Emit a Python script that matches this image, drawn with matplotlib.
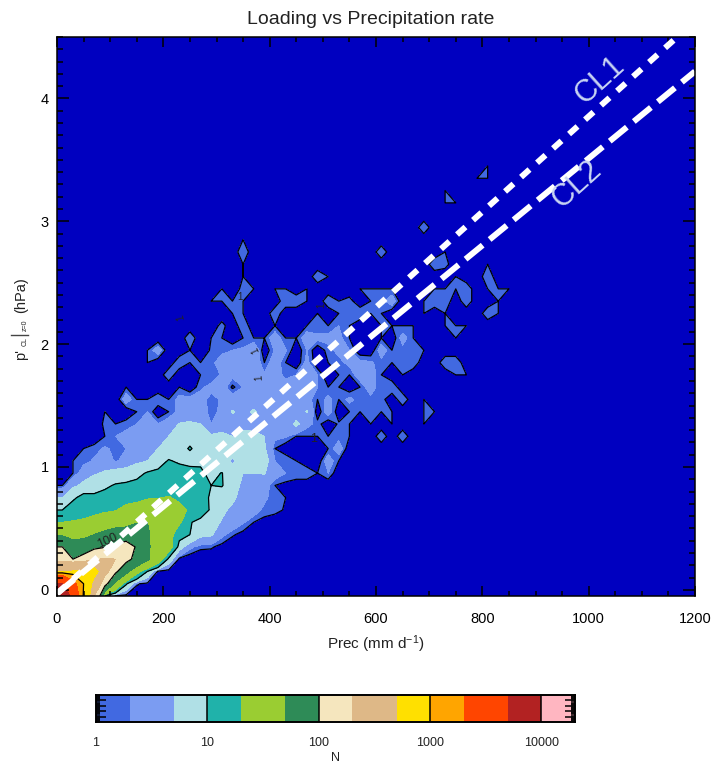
import numpy as np
import matplotlib; matplotlib.use("Agg"); import matplotlib.pyplot as plt
from matplotlib.lines import Line2D

plt.rcParams['font.family'] = ['Liberation Sans', 'DejaVu Sans']
plt.rcParams['mathtext.fontset'] = 'custom'
plt.rcParams['mathtext.rm'] = 'Liberation Sans'
plt.rcParams['mathtext.it'] = 'Liberation Sans'

levels = [1, 2, 5, 10, 20, 50, 100, 200, 500, 1000, 2000, 5000, 10000, 20000]
colors = ["#4169E1", "#7B9CF2", "#B0E0E6", "#20B2AA", "#9ACD32", "#2E8B57", "#F5E6BE",
          "#DEB887", "#FFE000", "#FFA500", "#FF4500", "#B22222", "#FFB6C1"]
line_levels = [1, 10, 100, 1000, 10000]
cbar_ticks = [1, 10, 100, 1000, 10000]

# bin centres, Prec every 20 mm/d, loading every 0.1 hPa
prec = [10 + 20 * k for k in range(-1, 44)]
load = [-0.05 + 0.1 * j for j in range(37)]

# counts per bin, one row per load value, trailing zeros dropped
counts = [
    [9000, 3500, 900, 200, 10, 0.5],
    [5000, 2500, 1000, 350, 120, 40, 11, 1.2, 0.5],
    [450, 520, 550, 650, 250, 110, 60, 25, 10, 0.5],
    [150, 100, 120, 190, 210, 200, 115, 85, 55, 30, 8, 0.5],
    [100, 70, 70, 80, 95, 110, 125, 95, 55, 35, 28, 7, 2.5, 1.3, 1.2, 0.5],
    [45, 35, 40, 50, 60, 70, 70, 75, 55, 33, 25, 13, 10, 6, 5.5, 2.5, 1.2, 0.5],
    [20, 21, 22, 24, 28, 33, 38, 48, 50, 35, 33, 22, 10.5, 8, 6, 4.8, 3.5, 2.2, 1, 0.6],
    [10, 13, 15, 17, 18, 19, 25, 28, 36, 42, 45, 25, 18, 14, 9, 5.5, 4.5, 3, 3, 1.5, 1.5, 0.8],
    [5, 9, 12, 11, 12, 13, 14, 15, 18, 19, 21, 17, 15, 13, 9, 6, 5.5, 4, 3, 2.5, 1, 1],
    [1, 4, 6, 8, 9, 10.5, 11, 11.5, 12.5, 12, 14, 16, 14, 12, 10, 10.5, 6, 4.5, 4.3, 3, 1, 0.6],
    [0, 1, 3, 4.5, 5.5, 6.5, 7, 8.5, 10.5, 11.5, 12, 13, 13, 11, 8.5, 10.2, 7, 5, 5, 5.2, 3, 2, 2, 2, 1, 2],
    [0, 1, 1.5, 2.2, 3, 1.8, 2.5, 4, 5, 7, 10.5, 9, 7.5, 9, 8, 6, 4.5, 6, 8, 7, 2, 2, 1, 0, 0, 3, 1],
    [0, 0, 1, 1.5, 2.2, 1.7, 2, 3, 4, 5, 6, 8, 10.5, 8, 7, 7, 7, 7, 6, 5.5, 1, 0, 0, 0, 0, 1, 3],
    [0, 0, 0, 0, 1, 2, 2.5, 2.5, 2.8, 4, 5, 7, 8, 6.5, 5.5, 6, 5, 6, 6, 5, 2.5, 2.2, 1, 1, 1, 1, 1.5, 1, 0, 0, 2, 0, 2],
    [0, 0, 0, 0, 1.3, 1, 1.5, 2, 2.2, 2, 3, 5.2, 5.5, 5, 2, 3, 3.5, 4, 3.5, 4, 3, 2.5, 6, 2.5, 1.5, 0, 1.2, 1, 0, 1, 0, 1, 0, 0, 1],
    [0, 0, 0, 0, 1, 0, 0, 1, 2, 0, 1, 2.5, 3, 2.5, 1.7, 2.2, 5.3, 4, 5.5, 3.5, 3, 2.5, 2.5, 5.3, 0, 3, 0, 1, 1, 1.5, 1, 1, 0, 0, 1, 1],
    [0, 0, 0, 0, 0, 0, 3, 1, 1, 2, 1, 2.5, 2.5, 2.7, 1.5, 2.2, 3, 3, 2.8, 2.5, 4, 3, 2.2, 2.8, 1, 2.5, 1, 2.5, 1.3, 1.5, 1.5, 0, 2, 0, 1],
    [0, 0, 0, 0, 0, 0, 1, 0, 0, 0, 0, 1, 0, 1.7, 2.5, 3, 0.7, 2, 2, 2.2, 3, 3, 2.6, 2.5, 2, 1, 1, 0, 1, 3, 1, 2],
    [0, 0, 0, 0, 0, 0, 0, 0, 0, 0, 2, 0, 0, 1, 1, 2.2, 2.5, 3, 3, 2.2, 3, 1.5, 2, 2.2, 2, 0, 1, 1, 3, 3, 1, 0, 1, 0, 0, 0, 0, 1, 1],
    [0, 0, 0, 0, 0, 0, 0, 0, 1, 0, 0, 2, 1, 1, 1.5, 3, 3, 2.2, 3.5, 1, 3, 1, 0, 2.5, 0, 1, 1.5, 2.5, 2.5, 2.2, 1.5, 1, 2, 2, 0, 0, 2, 2],
    [0, 0, 0, 0, 0, 0, 0, 0, 1, 3, 0, 0, 1, 0, 1.2, 1.5, 2, 2.3, 4, 0, 2.2, 2.2, 0, 2, 0, 1.5, 2.5, 2, 0, 0, 3, 1, 1.5, 1.5, 1],
    [0, 0, 0, 0, 0, 0, 0, 0, 0, 0, 0, 0, 2, 0, 1, 1, 0, 1, 1, 1, 3, 1, 1, 3, 2.5, 2.5, 2.5, 1, 0, 0, 1, 0, 2.7, 1, 0, 0, 0, 1],
    [0, 0, 0, 0, 0, 0, 0, 0, 0, 0, 0, 0, 0, 0, 0, 1.5, 0, 2, 0, 0, 1, 0, 0, 1, 1, 1, 2, 1, 0, 0, 1, 1, 1, 1, 0, 0, 1, 1, 1],
    [0, 0, 0, 0, 0, 0, 0, 0, 0, 0, 0, 0, 0, 0, 0, 0, 1, 1, 0, 0, 2, 0, 0, 0, 1, 0, 1, 2, 2, 1, 1, 0, 0, 0, 1, 0, 1, 0, 0, 0, 2, 1],
    [0, 0, 0, 0, 0, 0, 0, 0, 0, 0, 0, 0, 0, 0, 1, 1, 1, 1, 0, 0, 0, 2, 2, 1, 0, 2, 1, 1.5, 0, 1, 1.5, 3, 0, 0, 1, 2, 2, 0, 2, 0, 0, 1],
    [0, 0, 0, 0, 0, 0, 0, 0, 0, 0, 0, 0, 0, 0, 0, 1, 0, 1.5, 1, 0, 1, 1, 0, 1, 0, 0, 0, 0, 1, 1, 1, 1, 0, 0, 0, 1, 1, 1, 2, 0, 1, 1, 1],
    [0, 0, 0, 0, 0, 0, 0, 0, 0, 0, 0, 0, 0, 0, 0, 0, 0, 1, 0, 0, 0, 0, 0, 0, 2, 1, 0, 0, 0, 0, 0, 0, 0, 0, 0, 0, 0, 1, 0, 0, 2],
    [0, 0, 0, 0, 0, 0, 0, 0, 0, 0, 0, 0, 0, 0, 0, 0, 0, 1, 0, 0, 0, 0, 0, 0, 0, 0, 0, 0, 0, 0, 0, 0, 0, 0, 0, 2, 1.5, 0, 0, 0, 1],
    [0, 0, 0, 0, 0, 0, 0, 0, 0, 0, 0, 0, 0, 0, 0, 0, 0, 2, 0, 0, 0, 0, 0, 0, 0, 0, 0, 0, 0, 0, 2, 0, 0, 0, 0, 0, 1],
    [0, 0, 0, 0, 0, 0, 0, 0, 0, 0, 0, 0, 0, 0, 0, 0, 0, 1],
    [0, 0, 0, 0, 0, 0, 0, 0, 0, 0, 0, 0, 0, 0, 0, 0, 0, 0, 0, 0, 0, 0, 0, 0, 0, 0, 0, 0, 0, 0, 0, 0, 0, 0, 2],
    [],
    [0, 0, 0, 0, 0, 0, 0, 0, 0, 0, 0, 0, 0, 0, 0, 0, 0, 0, 0, 0, 0, 0, 0, 0, 0, 0, 0, 0, 0, 0, 0, 0, 0, 0, 0, 0, 1, 1],
    [0, 0, 0, 0, 0, 0, 0, 0, 0, 0, 0, 0, 0, 0, 0, 0, 0, 0, 0, 0, 0, 0, 0, 0, 0, 0, 0, 0, 0, 0, 0, 0, 0, 0, 0, 0, 1],
    [0, 0, 0, 0, 0, 0, 0, 0, 0, 0, 0, 0, 0, 0, 0, 0, 0, 0, 0, 0, 0, 0, 0, 0, 0, 0, 0, 0, 0, 0, 0, 0, 0, 0, 0, 0, 0, 0, 0, 1, 1],
    [0, 0, 0, 0, 0, 0, 0, 0, 0, 0, 0, 0, 0, 0, 0, 0, 0, 0, 0, 0, 0, 0, 0, 0, 0, 0, 0, 0, 0, 0, 0, 0, 0, 0, 0, 0, 0, 0, 0, 0, 1],
]

cl1_prec = [0, 1200]
cl1_load = [-0.03, 4.63]
cl2_prec = [0, 1200]
cl2_load = [-0.03, 4.22]

W, H = 714, 764
fig = plt.figure(figsize=(W / 100, H / 100), dpi=100)
ax = fig.add_axes([57 / W, 1 - 596 / H, 638 / W, 559 / H], facecolor="#0000C0")

z = np.zeros((len(load), len(prec)))
for j, row in enumerate(counts):
    z[j, 1:len(row) + 1] = row
z[:, 0] = z[:, 1]

# bins holding exactly 1 must count as inside the first band
fill_levels = [0.999] + levels[1:]
ax.contourf(prec, load, z, levels=fill_levels, colors=colors)
ax.contour(prec, load, z, levels=[0.999] + line_levels[1:], colors="k", linewidths=0.9)

ax.plot(cl1_prec, cl1_load, color="w", lw=4.3, dashes=(1.9, 1.7), dash_capstyle="butt")
ax.plot(cl2_prec, cl2_load, color="w", lw=4.3, dashes=(3.7, 1.5), dash_capstyle="butt")

ax.text(1022, 4.15, "CL1", color="#C8D4F4", fontsize=22, rotation=42, ha="center", va="center")
ax.text(978, 3.3, "CL2", color="#C8D4F4", fontsize=22, rotation=42, ha="center", va="center")

ax.text(94, 0.40, "100", fontsize=9, rotation=24, ha="center", va="center", color="#222222")
ax.text(483, 1.23, "1", fontsize=9, ha="center", va="center", color="#222222")
for lx, ly, rot in [(344, 2.38, 0), (374, 1.95, 115), (381, 1.73, 95), (497, 2.32, 90), (233, 2.22, 105)]:
    ax.text(lx, ly, "1", fontsize=7, rotation=rot, ha="center", va="center", color="#222222")

ax.set_xlim(0, 1200)
ax.set_ylim(-0.05, 4.5)
ax.set_xticks(range(0, 1201, 200))
ax.set_xticks(range(0, 1201, 50), minor=True)
ax.set_yticks([0, 1, 2, 3, 4])
ax.set_yticks([i / 10 for i in range(0, 46)], minor=True)
ax.tick_params(axis="x", which="major", direction="in", top=True, length=7.2, width=1.1, labelsize=10.5, pad=11.5)
ax.tick_params(axis="x", which="minor", direction="in", top=True, length=3.6, width=1.1)
ax.tick_params(axis="y", which="major", direction="in", right=True, length=8.6, width=1.1, labelsize=10.5, pad=6)
ax.tick_params(axis="y", which="minor", direction="in", right=True, length=4.3, width=1.1)
for s in ax.spines.values():
    s.set_linewidth(1.1)

ax.set_xlabel("Prec (mm d$^{-1}$)", fontsize=11, color="#222222", labelpad=5)
fig.text(371 / W, 1 - 20 / H, "Loading vs Precipitation rate", fontsize=14, ha="center", va="center", color="#222222")

# y label built from pieces: the subscripts are much smaller than mathtext would make them
ylab = [("p'", 10.5, 21, 360), ("CL", 5, 25, 346), ("z=0", 5, 25, 331), ("(hPa)", 10.5, 21, 313)]
for s, fs, px, py in ylab:
    fig.text(px / W, 1 - py / H, s, fontsize=fs, rotation=90, ha="center", va="bottom", color="#222222")
fig.add_artist(Line2D([11 / W, 28 / W], [1 - 335 / H, 1 - 335 / H], color="#444444", lw=1))

cax = fig.add_axes([96 / W, 1 - 722 / H, 479 / W, 27 / H])
cax.pcolormesh(levels, [0, 1], [list(range(13))], cmap=matplotlib.colors.ListedColormap(colors), vmin=-0.5, vmax=12.5)
cax.set_xscale("log")
cax.set_xlim(1, 20000)
cax.set_ylim(0, 1)
for v in cbar_ticks[1:]:
    cax.axvline(v, color="k", lw=1.1)
cax.set_xticks(cbar_ticks)
cax.set_xticklabels([str(v) for v in cbar_ticks])
cax.xaxis.set_minor_locator(matplotlib.ticker.NullLocator())
cax.set_yticks([i / 5 for i in range(1, 5)])
cax.set_yticks([i / 25 for i in range(1, 25)], minor=True)
cax.set_yticklabels([])
cax.tick_params(axis="x", length=0, labelsize=9, pad=11, labelcolor="#222222")
cax.tick_params(axis="y", which="major", direction="in", left=True, right=True, length=7, width=1.1)
cax.tick_params(axis="y", which="minor", direction="in", left=True, right=True, length=3, width=1.1)
for s in cax.spines.values():
    s.set_linewidth(1.4)
cax.set_xlabel("N", fontsize=9, color="#222222", labelpad=2)

fig.savefig("out.png", dpi=100)
